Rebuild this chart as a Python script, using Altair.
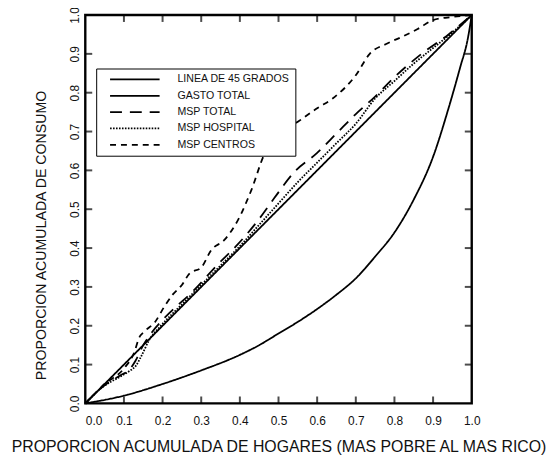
import altair as alt
import pandas as pd

# ---- data ----
series_names = ["LINEA DE 45 GRADOS", "GASTO TOTAL", "MSP TOTAL", "MSP HOSPITAL", "MSP CENTROS"]

x_45 = [0.0, 1.0]
y_45 = [0.0, 1.0]

x_gasto = [0.0, 0.1, 0.2, 0.3, 0.4, 0.45, 0.5, 0.55, 0.6, 0.65, 0.7, 0.75, 0.8, 0.85, 0.9, 0.94, 0.97, 0.99, 1.0]
y_gasto = [0.0, 0.02, 0.05, 0.085, 0.125, 0.15, 0.18, 0.21, 0.243, 0.28, 0.322, 0.378, 0.44, 0.525, 0.635, 0.76,
           0.865, 0.94, 1.0]

x_msp_total = [0.0, 0.05, 0.09, 0.115, 0.13, 0.15, 0.17, 0.22, 0.28, 0.34, 0.395, 0.446, 0.49, 0.54,
               0.6, 0.65, 0.7, 0.75, 0.8, 0.87, 0.94, 1.0]
y_msp_total = [0.0, 0.047, 0.072, 0.088, 0.11, 0.15, 0.18, 0.235, 0.29, 0.355, 0.41, 0.47, 0.53, 0.595,
               0.645, 0.695, 0.745, 0.79, 0.84, 0.9, 0.95, 1.0]

x_msp_hosp = [0.0, 0.046, 0.09, 0.115, 0.131, 0.144, 0.167, 0.192, 0.25, 0.3, 0.35, 0.4, 0.45, 0.5,
              0.55, 0.6, 0.65, 0.7, 0.75, 0.8, 0.85, 0.9, 0.95, 1.0]
y_msp_hosp = [0.0, 0.043, 0.069, 0.084, 0.097, 0.12, 0.166, 0.196, 0.255, 0.305, 0.355, 0.405, 0.46, 0.515,
              0.57, 0.62, 0.67, 0.72, 0.785, 0.83, 0.875, 0.915, 0.955, 1.0]

x_msp_centros = [0.0, 0.05, 0.1, 0.128, 0.138, 0.154, 0.18, 0.205, 0.226, 0.25, 0.27, 0.3, 0.326, 0.36,
                 0.395, 0.43, 0.464, 0.5, 0.55, 0.6, 0.64, 0.7, 0.736, 0.78, 0.82, 0.86, 0.9, 0.95, 1.0]
y_msp_centros = [0.0, 0.05, 0.09, 0.135, 0.166, 0.186, 0.209, 0.25, 0.28, 0.305, 0.335, 0.35, 0.395, 0.421,
                 0.472, 0.55, 0.643, 0.69, 0.725, 0.76, 0.785, 0.845, 0.9, 0.926, 0.944, 0.964, 0.987, 0.995, 1.0]

tick_values = [0.1, 0.2, 0.3, 0.4, 0.5, 0.6, 0.7, 0.8, 0.9]
label_values = [0.0, 0.1, 0.2, 0.3, 0.4, 0.5, 0.6, 0.7, 0.8, 0.9, 1.0]

x_title = "PROPORCION ACUMULADA DE HOGARES (MAS POBRE AL MAS RICO)"
y_title = "PROPORCION ACUMULADA DE CONSUMO"

# ---- build tables ----
all_x = [x_45, x_gasto, x_msp_total, x_msp_hosp, x_msp_centros]
all_y = [y_45, y_gasto, y_msp_total, y_msp_hosp, y_msp_centros]
rows = []
for name, xs, ys in zip(series_names, all_x, all_y):
    for i, (a, b) in enumerate(zip(xs, ys)):
        rows.append({"serie": name, "x": a, "y": b, "orden": i})
df = pd.DataFrame(rows)
ticks_df = pd.DataFrame({"x": tick_values, "y": tick_values})

FONT = "Liberation Sans"
W, H = 390, 392
TL = 7  # inward tick length

xscale = alt.Scale(domain=[0, 1], nice=False, zero=False)
yscale = alt.Scale(domain=[0, 1], nice=False, zero=False)

x_axis = alt.Axis(values=label_values, format=".1f", title=x_title,
                  ticks=False, domain=False, grid=False, labelOverlap=False,
                  labelFontSize=12, labelPadding=12, labelBaseline="top",
                  labelAlign=alt.expr("datum.value == 0 ? 'left' : 'center'"),
                  titleFontSize=16, titleFontWeight="normal",
                  titleX=195, titleY=44, titleBaseline="middle", titleAlign="center")
y_axis = alt.Axis(values=label_values, format=".1f", title=y_title,
                  ticks=False, domain=False, grid=False, labelOverlap=False,
                  labelFontSize=12, labelPadding=4, labelAngle=270,
                  labelAlign="center", labelBaseline="bottom",
                  labelFlush=True, labelFlushOffset=4,
                  titleFontSize=14.3, titleFontWeight="normal",
                  titleX=-44, titleY=222, titleAngle=270,
                  titleBaseline="middle", titleAlign="center")

dash_range = [[1, 0], [1, 0], [12, 8], [1.6, 1.4], [6, 5]]

lines = alt.Chart(df).mark_line(color="black", strokeWidth=1.8, interpolate="monotone").encode(
    x=alt.X("x:Q", scale=xscale, axis=x_axis),
    y=alt.Y("y:Q", scale=yscale, axis=y_axis),
    strokeDash=alt.StrokeDash(
        "serie:N",
        scale=alt.Scale(domain=series_names, range=dash_range),
        legend=alt.Legend(
            orient="none", legendX=11, legendY=54, title=None,
            strokeColor="black", fillColor="white", padding=6,
            symbolType="stroke", symbolSize=2500, symbolStrokeWidth=1.8,
            symbolStrokeColor="black", symbolOffset=7, clipHeight=10,
            rowPadding=5.5, labelOffset=17, labelFontSize=10.7, labelFont=FONT,
            labelColor="#111", labelExpr="datum.label + '          '",
        ),
    ),
    order="orden:Q",
)

# inward tick marks on all four sides
bottom_ticks = alt.Chart(ticks_df).mark_tick(color="black", orient="vertical", size=TL, thickness=2).encode(
    x=alt.X("x:Q", scale=xscale, axis=x_axis), y=alt.value(H - TL / 2))
top_ticks = alt.Chart(ticks_df).mark_tick(color="black", orient="vertical", size=TL, thickness=2).encode(
    x=alt.X("x:Q", scale=xscale, axis=x_axis), y=alt.value(TL / 2))
left_ticks = alt.Chart(ticks_df).mark_tick(color="black", orient="horizontal", size=TL, thickness=2).encode(
    y=alt.Y("y:Q", scale=yscale, axis=y_axis), x=alt.value(TL / 2))
right_ticks = alt.Chart(ticks_df).mark_tick(color="black", orient="horizontal", size=TL, thickness=2).encode(
    y=alt.Y("y:Q", scale=yscale, axis=y_axis), x=alt.value(W - TL / 2))

chart = alt.layer(lines, bottom_ticks, top_ticks, left_ticks, right_ticks).properties(
    width=W, height=H,
    background="white",
    autosize=alt.AutoSizeParams(type="none"),
    padding={"left": 78, "top": 5, "right": 80, "bottom": 54},
).configure_view(
    stroke="black", strokeWidth=2.4
).configure_axis(
    labelFont=FONT, titleFont=FONT, labelColor="#111", titleColor="#111"
)

chart.save("out.html", embed_options={"renderer": "svg", "actions": False})
